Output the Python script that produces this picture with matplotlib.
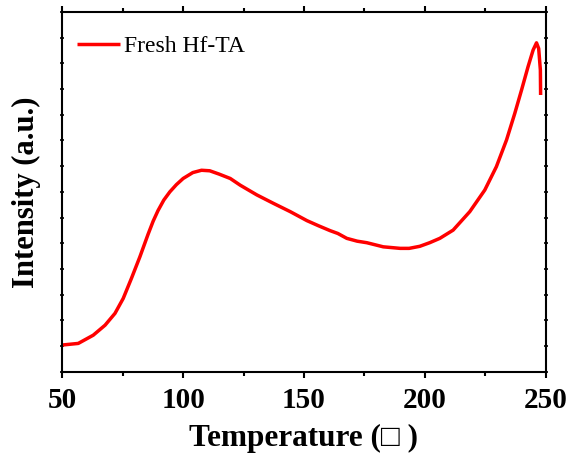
import numpy as np
import matplotlib.pyplot as plt
from matplotlib.ticker import MultipleLocator, NullFormatter

# 读图估计的数据
temperature = [50.2, 56.6, 62.8, 67.7, 71.8, 75.2, 78.6, 82.1, 85.5, 87.6, 89.6, 92.0,
               94.5, 97.2, 100.0, 104.0, 107.6, 111.0, 114.9, 119.5, 123.6, 130.5,
               137.4, 144.3, 151.2, 156.0, 160.8, 164.0, 167.7, 172.0, 176.0, 182.8,
               189.8, 193.5, 197.9, 202.0, 206.2, 211.7, 218.6, 224.8, 229.6, 233.8,
               237.2, 240.0, 242.7, 244.8, 246.2, 247.1, 247.8, 247.9]
intensity = [1.04, 1.10, 1.42, 1.81, 2.27, 2.85, 3.63, 4.47, 5.35, 5.86, 6.27, 6.68,
             7.00, 7.28, 7.52, 7.75, 7.84, 7.82, 7.69, 7.52, 7.26, 6.88,
             6.55, 6.23, 5.88, 5.68, 5.49, 5.38, 5.19, 5.08, 5.02, 4.86,
             4.80, 4.80, 4.88, 5.02, 5.19, 5.51, 6.23, 7.07, 7.98, 9.02,
             10.05, 10.96, 11.87, 12.52, 12.80, 12.58, 11.74, 10.77]

x_ticks = [50, 100, 150, 200, 250]
legend_label = 'Fresh Hf-TA'

plt.rcParams['font.family'] = ['Liberation Serif', 'DejaVu Serif']

fig = plt.figure(figsize=(5.72, 4.53), dpi=100)
ax = fig.add_axes([0.1089, 0.1795, 0.8451, 0.794])

ax.plot(temperature, intensity, color='red', linewidth=2.5, label=legend_label,
        solid_joinstyle='round', solid_capstyle='butt')

ax.set_xlim(50, 250)
ax.set_ylim(0, 14)
ax.set_xticks(x_ticks)
ax.xaxis.set_minor_locator(MultipleLocator(25))
ax.yaxis.set_major_locator(MultipleLocator(1))
ax.yaxis.set_major_formatter(NullFormatter())

for s in ax.spines.values():
    s.set_linewidth(1.5)

ax.tick_params(axis='x', which='major', direction='out', length=4, width=1.5,
               top=True, labelsize=21, pad=7)
ax.tick_params(axis='x', which='minor', direction='out', length=3, width=1.5, top=True)
ax.tick_params(axis='y', which='major', direction='inout', length=3, width=1.2, right=True)
for lab in ax.get_xticklabels():
    lab.set_fontweight('bold')

ax.set_xlabel('Temperature (\u25a1 )', fontsize=22.5, fontweight='bold', labelpad=7)
ax.set_ylabel('Intensity (a.u.)', fontsize=22, fontweight='bold', labelpad=10)

ax.legend(loc='upper left', bbox_to_anchor=(-0.019, 1.0), frameon=False, fontsize=17,
          handlelength=1.82, handletextpad=0.2, borderaxespad=0.6, borderpad=0.4)

fig.savefig('out.png', dpi=100)
